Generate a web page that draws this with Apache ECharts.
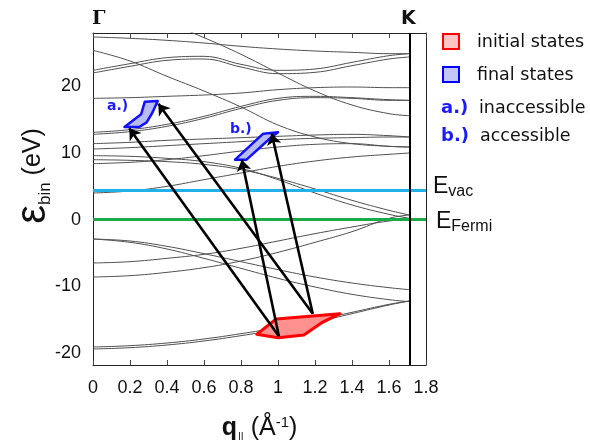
<!DOCTYPE html>
<html><head><meta charset="utf-8">
<script src="https://cdn.jsdelivr.net/npm/echarts@6/dist/echarts.min.js"></script>
<style>html,body{margin:0;padding:0;background:#fff}#c{width:590px;height:440px}</style>
</head><body><div id="c"></div>
<script>
// k-points (Å^-1) at which each band energy (eV) is sampled
const kGrid = [0, 0.2, 0.4, 0.6, 0.8, 1.0, 1.2, 1.4, 1.6, 1.71];
// upper bands
const bandU1 = [27.4, 27.2, 26.9, 26.5, 26.0, 25.6, 25.3, 25.1, 24.9, 24.9];
const bandU2 = [32.0, 31.0, 29.5, 27.3, 24.8, 22.0, 19.3, 17.2, 15.9, 15.6];
const bandU3 = [22.4, 23.4, 24.3, 24.5, 23.3, 22.4, 22.6, 23.6, 24.6, 24.9];
const bandU4 = [22.0, 23.0, 23.9, 24.1, 22.9, 21.9, 22.1, 23.1, 24.1, 24.4];
const bandU5 = [18.2, 18.3, 18.5, 18.7, 19.0, 19.5, 19.8, 19.9, 19.8, 19.8];
const bandU6 = [13.1, 13.5, 14.3, 15.5, 17.0, 18.2, 18.5, 18.3, 18.0, 17.9];
const bandU6b = [12.8, 13.2, 14.0, 15.2, 16.7, 17.9, 18.3, 18.2, 17.9, 17.9];
const bandU7 = [11.4, 11.6, 11.9, 12.1, 12.3, 12.5, 12.7, 12.8, 12.6, 12.4];
const bandU8 = [10.6, 10.8, 11.1, 11.4, 11.7, 12.0, 12.2, 12.3, 12.4, 12.4];
const bandU9 = [8.4, 8.6, 9.0, 9.6, 10.3, 10.9, 11.3, 11.4, 11.0, 10.9];
const bandU10 = [25.4, 23.8, 21.5, 19.3, 16.9, 14.2, 12.4, 11.4, 11.0, 10.9];
// middle bands (around vacuum / Fermi level)
const bandM1 = [4.0, 4.3, 5.0, 6.0, 7.0, 8.0, 8.8, 9.4, 9.8, 10.0];
const bandM2 = [9.0, 8.9, 8.7, 8.3, 7.5, 6.2, 4.6, 2.9, 1.4, 0.7];
const bandM3 = [9.6, 9.5, 9.2, 8.7, 7.7, 6.0, 4.0, 2.2, 0.8, 0.2];
// lower bands
const bandL1 = [-2.9, -3.2, -4.0, -5.1, -6.3, -7.5, -8.6, -9.5, -10.2, -10.5];
const bandL2 = [-2.9, -3.4, -4.4, -5.8, -7.3, -8.8, -10.1, -11.2, -12.0, -12.3];
const bandL3 = [-6.5, -6.3, -5.8, -5.2, -4.3, -3.2, -2.1, -1.1, -0.2, 0.0];
const bandL4 = [-8.6, -8.4, -7.9, -7.2, -6.2, -4.9, -3.4, -1.8, 0.2, 0.7];
const bandL5 = [-19.1, -18.9, -18.5, -17.9, -17.1, -16.2, -15.1, -13.9, -12.7, -12.2];
const bandL6 = [-19.4, -19.2, -18.8, -18.2, -17.4, -16.5, -15.4, -14.1, -12.8, -12.2];

const xTicks = [0, 0.2, 0.4, 0.6, 0.8, 1, 1.2, 1.4, 1.6, 1.8];
const yTicks = [-20, -10, 0, 10, 20];
const eVac = 4.4;
const eFermi = 0;
const kPointK = 1.71;

// regions (k, E)
const initialStates = [[0.885, -17.2], [0.99, -14.9], [1.335, -14.1], [1.24, -15.4], [1.14, -17.3], [1.0, -17.7]];
const finalStatesA = [[0.17, 13.9], [0.26, 15.8], [0.28, 17.7], [0.35, 17.8], [0.32, 16.0], [0.29, 14.6], [0.25, 13.9]];
const finalStatesB = [[0.768, 9.0], [0.92, 12.9], [1.0, 13.1], [0.965, 12.4], [0.83, 9.0]];

// transitions: start (initial) -> end (final)
const arrowFrom = [[1.005, -17.5], [1.188, -14.1], [1.005, -17.5], [1.188, -14.1]];
const arrowTo = [[0.196, 13.7], [0.353, 17.4], [0.804, 9.0], [0.966, 12.9]];

const bands = [bandU1, bandU2, bandU3, bandU4, bandU5, bandU6, bandU6b, bandU7, bandU8, bandU9, bandU10,
  bandM1, bandM2, bandM3, bandL1, bandL2, bandL3, bandL4, bandL5, bandL6];

const chart = echarts.init(document.getElementById('c'), null, {renderer: 'canvas'});
const FONT = 'Liberation Sans';
function polySeries(name, pts, fill, stroke, lw) {
  return {
    type: 'custom', name: name, silent: true, z: 5,
    data: [0],
    renderItem: function (params, api) {
      return {
        type: 'polygon',
        shape: {points: pts.map(p => api.coord(p))},
        style: {fill: fill, stroke: stroke, lineWidth: lw, lineJoin: 'round'}
      };
    }
  };
}

const series = [];
bands.forEach((b, i) => {
  series.push({
    type: 'line', name: 'band' + i, data: b.map((e, j) => [kGrid[j], e]),
    smooth: 0.4, symbol: 'none', silent: true, z: 2, clip: true,
    lineStyle: {color: '#505050', width: 1}
  });
});
series.push({
  type: 'line', data: [], silent: true, z: 3,
  markLine: {
    silent: true, symbol: 'none', label: {show: false},
    data: [
      {yAxis: eVac, lineStyle: {color: '#22b0e8', width: 3, type: 'solid'}},
      {yAxis: eFermi, lineStyle: {color: '#1aab48', width: 3, type: 'solid'}},
      {xAxis: kPointK, lineStyle: {color: '#000', width: 2, type: 'solid'}}
    ]
  }
});
series.push(polySeries('initial', initialStates, '#ff9090', '#ff0000', 3));
series.push(polySeries('finalA', finalStatesA, '#b8bcf4', '#1010ff', 2.5));
series.push(polySeries('finalB', finalStatesB, '#b8bcf4', '#1010ff', 2.5));
series.push({
  type: 'lines', coordinateSystem: 'cartesian2d', silent: true, z: 6,
  symbol: ['none', 'arrow'], symbolSize: 11,
  lineStyle: {color: '#000', width: 2.6, opacity: 1},
  data: arrowFrom.map((s, i) => ({coords: [s, arrowTo[i]]}))
});

const axisCommon = {
  min: 0, max: 1.8, interval: 0.2,
  axisLine: {show: true, onZero: false, lineStyle: {color: '#222', width: 1}},
  axisTick: {show: true, inside: true, length: 5, lineStyle: {color: '#444'}},
  splitLine: {show: false}
};

chart.setOption({
  animation: false,
  grid: {left: 93, top: 33, width: 333, height: 332, containLabel: false, outerBoundsMode: 'none'},
  xAxis: [
    Object.assign({}, axisCommon, {
      type: 'value', position: 'bottom',
      axisLabel: {show: true, margin: 14, color: '#111', fontFamily: FONT, fontSize: 18,
        customValues: xTicks, formatter: v => String(+v.toFixed(1))},
      name: '{q|q}{sub|||}{n| (Å}{sup|-1}{n|)}', nameLocation: 'middle', nameGap: 50,
      nameTextStyle: {rich: {
        q: {fontFamily: FONT, fontWeight: 'bold', fontSize: 25, color: '#111'},
        sub: {fontFamily: FONT, fontSize: 11, color: '#111', verticalAlign: 'bottom', padding: [14, 0, 0, 1]},
        n: {fontFamily: FONT, fontSize: 25, color: '#111'},
        sup: {fontFamily: FONT, fontSize: 15, color: '#111', verticalAlign: 'top', padding: [0, 0, 12, 0]}
      }}
    }),
    Object.assign({}, axisCommon, {type: 'value', position: 'top', axisLabel: {show: false}})
  ],
  yAxis: [
    {
      type: 'value', min: -21.8, max: 28, position: 'left',
      axisLine: {show: true, onZero: false, lineStyle: {color: '#222', width: 1}},
      axisTick: {show: false}, splitLine: {show: false},
      axisLabel: {show: true, customValues: yTicks, margin: 12, color: '#111', fontFamily: FONT, fontSize: 18}
    },
    {
      type: 'value', min: -21.8, max: 28, position: 'right',
      axisLine: {show: true, onZero: false, lineStyle: {color: '#222', width: 1}},
      axisTick: {show: false}, splitLine: {show: false}, axisLabel: {show: false}
    }
  ],
  graphic: [
    {type: 'text', left: 92, top: 10, style: {text: 'Γ', fontFamily: 'DejaVu Serif', fontWeight: 'bold', fontSize: 19, fill: '#111'}},
    {type: 'text', left: 401, top: 10, style: {text: 'K', fontFamily: 'DejaVu Sans', fontWeight: 'bold', fontSize: 19, fill: '#111'}},
    {type: 'text', x: 33, y: 176, rotation: Math.PI / 2, style: {
      text: '{e|ε}{s|bin}{n| (eV)}', align: 'center', verticalAlign: 'middle',
      rich: {
        e: {fontFamily: FONT, fontSize: 42, fill: '#111', verticalAlign: 'middle'},
        s: {fontFamily: FONT, fontSize: 17, fill: '#111', verticalAlign: 'bottom', padding: [20, 0, 0, 0]},
        n: {fontFamily: FONT, fontSize: 25, fill: '#111', verticalAlign: 'middle'}
      }}},
    // legend
    {type: 'rect', shape: {x: 443, y: 34, width: 16, height: 15}, style: {fill: '#ffc4c4', stroke: '#ff0000', lineWidth: 2}},
    {type: 'text', x: 477, y: 42, style: {text: 'initial states', fontFamily: 'DejaVu Sans', fontSize: 17.5, fill: '#111', verticalAlign: 'middle'}},
    {type: 'rect', shape: {x: 443, y: 67, width: 16, height: 15}, style: {fill: '#c4c6f6', stroke: '#0000ff', lineWidth: 2}},
    {type: 'text', x: 477, y: 75, style: {text: 'final states', fontFamily: 'DejaVu Sans', fontSize: 17.5, fill: '#111', verticalAlign: 'middle'}},
    {type: 'text', x: 441, y: 108, style: {text: 'a.)', fontFamily: 'DejaVu Sans', fontWeight: 'bold', fontSize: 18, fill: '#1a1aff', verticalAlign: 'middle'}},
    {type: 'text', x: 479, y: 108, style: {text: 'inaccessible', fontFamily: 'DejaVu Sans', fontSize: 17.5, fill: '#111', verticalAlign: 'middle'}},
    {type: 'text', x: 441, y: 136, style: {text: 'b.)', fontFamily: 'DejaVu Sans', fontWeight: 'bold', fontSize: 18, fill: '#1a1aff', verticalAlign: 'middle'}},
    {type: 'text', x: 480, y: 136, style: {text: 'accessible', fontFamily: 'DejaVu Sans', fontSize: 17.5, fill: '#111', verticalAlign: 'middle'}},
    // a.) b.) labels in plot
    {type: 'text', x: 107, y: 106, style: {text: 'a.)', fontFamily: 'DejaVu Sans', fontWeight: 'bold', fontSize: 14, fill: '#1a1aff', verticalAlign: 'middle'}},
    {type: 'text', x: 230, y: 129, style: {text: 'b.)', fontFamily: 'DejaVu Sans', fontWeight: 'bold', fontSize: 14, fill: '#1a1aff', verticalAlign: 'middle'}},
    // energy labels
    {type: 'text', x: 433, y: 187, style: {text: '{E|E}{s|vac}', verticalAlign: 'middle', rich: {
      E: {fontFamily: FONT, fontSize: 23, fill: '#111'},
      s: {fontFamily: FONT, fontSize: 16, fill: '#111', verticalAlign: 'bottom', padding: [10, 0, 0, 0]}}}},
    {type: 'text', x: 436, y: 222, style: {text: '{E|E}{s|Fermi}', verticalAlign: 'middle', rich: {
      E: {fontFamily: FONT, fontSize: 23, fill: '#111'},
      s: {fontFamily: FONT, fontSize: 16, fill: '#111', verticalAlign: 'bottom', padding: [10, 0, 0, 0]}}}}
  ],
  series: series
});
</script></body></html>
